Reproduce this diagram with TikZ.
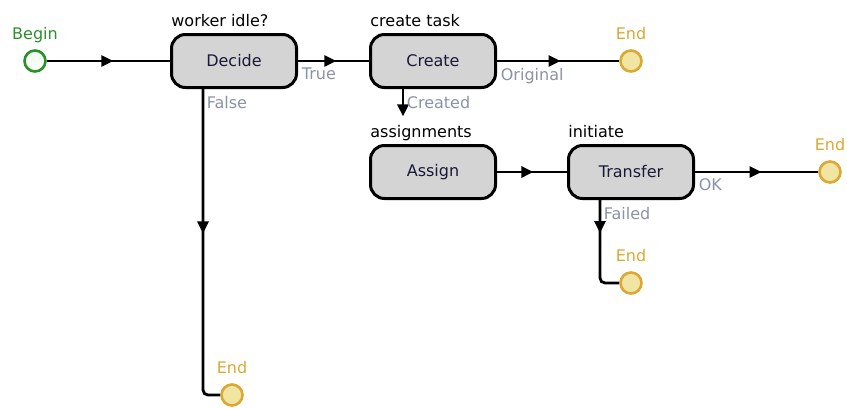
\documentclass[tikz,border=0pt]{standalone}
\usepackage{fontspec}
\setmainfont{DejaVu Sans}
\usepackage{tikz}
\usetikzlibrary{arrows.meta,positioning,decorations.markings}
\definecolor{cgreen}{rgb}{0.17, 0.56, 0.17}
\definecolor{cgold}{rgb}{0.86, 0.66, 0.2}
\definecolor{cpale}{rgb}{0.94, 0.9, 0.64}
\definecolor{cbox}{rgb}{0.83, 0.83, 0.83}
\definecolor{cnavy}{rgb}{0.1, 0.1, 0.22}
\definecolor{cexit}{rgb}{0.55, 0.57, 0.65}

\begin{document}
\begin{tikzpicture}[x=1pt,y=-1pt,on grid,line width=2.8pt,
  font=\fontsize{16}{18}\selectfont,
  task node/.style={rectangle,rounded corners=14pt,fill=cbox,draw=black,line width=3pt,
    minimum width=125pt,minimum height=53pt,text=cnavy},
  begin node/.style={circle,draw=cgreen,fill=green!4,minimum size=21pt,inner sep=0pt,
    line width=2.6pt},
  end node/.style={circle,draw=cgold,fill=cpale,minimum size=21pt,inner sep=0pt,
    line width=2.6pt},
  top label/.style={anchor=base,inner sep=0pt,yshift=9.5pt},
  cap node/.style={anchor=base west,inner sep=0pt,text=black},
  exit label/.style={anchor=north west,inner sep=1.5pt,xshift=1pt,yshift=-4pt,text=cexit},
  arrow tip/.style={-{Triangle[length=12pt,width=11pt]}},
  flow/.style={draw=black,line width=2.8pt,postaction={decorate},
    decoration={markings,mark=at position #1 with {\arrow{Triangle[length=12pt,width=11pt]}}}},
  flow/.default=0.54]
  \useasboundingbox (0,0) rectangle (847,408);

  % states
  \node[begin node,label={[top label,text=cgreen]above:Begin}] (begin) at (35,61) {};
  \node[task node] (decide) [right=199pt of begin] {Decide};
  \node[task node] (create) [right=199pt of decide] {Create};
  \node[end node,label={[top label,text=cgold]above:End}] (end1) [right=198pt of create] {};
  \node[task node] (assign) [below=111pt of create] {Assign};
  \node[task node] (transfer) [right=198pt of assign] {Transfer};
  \node[end node,label={[top label,text=cgold]above:End}] (end2) [right=199pt of transfer] {};
  \node[end node,label={[top label,text=cgold]above:End}] (end3) [below=111pt of transfer] {};
  \node[end node,label={[top label,text=cgold]above:End}] (end4) [below left=334pt and 2pt of decide] {};

  % captions
  \node[cap node] (decidecap) at ([yshift=7pt]decide.north west) {worker idle?};
  \node[cap node] (createcap) at ([yshift=7pt]create.north west) {create task};
  \node[cap node] (assigncap) at ([yshift=7pt]assign.north west) {assignments};
  \node[cap node] (transfercap) at ([yshift=7pt]transfer.north west) {initiate};

  % exits
  \coordinate (decideout) at ([xshift=33pt]decide.south west);
  \coordinate (createout) at ([xshift=34pt]create.south west);
  \coordinate (transferout) at ([xshift=33pt]transfer.south west);

  \draw[flow] (begin) -- (decide);
  \draw[flow] (decide) -- node[exit label,pos=0] {True} (create);
  \draw[flow=0.52] (create) -- node[exit label,pos=0] {Original} (end1);
  \draw[arrow tip,shorten >=7pt] (createout) -- node[exit label,pos=0] {Created} (createout |- assigncap.north);
  \draw[flow=0.52] (assign) -- (transfer);
  \draw[flow] (transfer) -- node[exit label,pos=0] {OK} (end2);
  \draw[flow=0.33,rounded corners=5pt] (transferout) -- node[exit label,pos=0] {Failed} (transferout |- end3) -- (end3);
  \draw[flow=0.45,rounded corners=5pt] (decideout) -- node[exit label,pos=0] {False} (decideout |- end4) -- (end4);
\end{tikzpicture}
\end{document}
